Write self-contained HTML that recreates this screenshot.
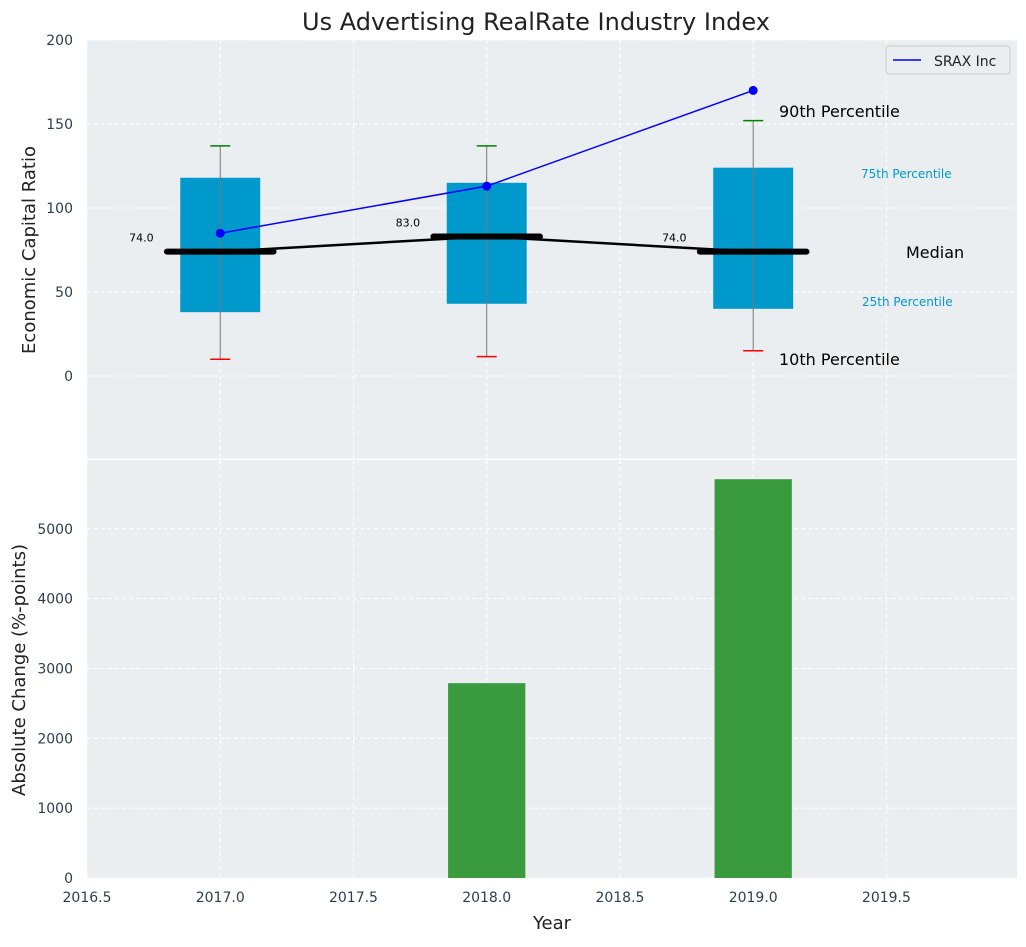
<!DOCTYPE html>
<html><head><meta charset="utf-8"><style>
body{margin:0;background:#fff;font-family:"Liberation Sans","DejaVu Sans",sans-serif;}
svg text{font-family:"DejaVu Sans","Liberation Sans",sans-serif;}
</style></head><body>
<svg id="chart" width="1026" height="942" xmlns="http://www.w3.org/2000/svg">
<rect x="0" y="0" width="1026" height="942" fill="#fff"/>
<text x="536" y="30" font-size="24" text-anchor="middle" fill="#222">Us Advertising RealRate Industry Index</text>
<g id="top"></g><g id="bottom"></g>
</svg>
<script>
const years=[2017,2018,2019];
const p10=[10,11.5,15];
const p25=[38,43,40];
const medians=[74,83,74];
const p75=[118,115,124];
const p90=[137,137,152];
const srax=[85,113,170];
const changeYears=[2018,2019];
const changes=[2790,5710];
const xTicks=[2016.5,2017,2017.5,2018,2018.5,2019,2019.5];
const yTopTicks=[0,50,100,150,200];
const yBotTicks=[0,1000,2000,3000,4000,5000];

const NS="http://www.w3.org/2000/svg";
const L=87,R=1017;
const x=v=>L+(v-2016.5)*(R-L)/3.49;
const yT=v=>40+(200-v)*420/250;
const yB=v=>878-v*418/5985;
function mk(tag,attrs,parent,text){const e=document.createElementNS(NS,tag);for(const k in attrs)e.setAttribute(k,attrs[k]);if(text!==undefined)e.textContent=text;parent.appendChild(e);return e;}
const gTop=document.getElementById('top'),gBot=document.getElementById('bottom');

let bg=mk('rect',{x:L,y:40,width:R-L,height:419,fill:'#eaeef0'},gTop);


let bg2=mk('rect',{x:L,y:460,width:R-L,height:418,fill:'#eaeef0'},gBot);



xTicks.forEach(t=>{
 mk('line',{x1:x(t),x2:x(t),y1:40,y2:459,stroke:'#fff','stroke-dasharray':'4,3','stroke-width':1},gTop);
 mk('line',{x1:x(t),x2:x(t),y1:460,y2:878,stroke:'#fff','stroke-dasharray':'4,3','stroke-width':1},gBot);
 let tl=mk('text',{x:x(t),y:902,'font-size':14,'text-anchor':'middle',fill:'#2d3e50'},gBot,t.toFixed(1));
 
 
});
yTopTicks.forEach(t=>{
 mk('line',{x1:L,x2:R,y1:yT(t),y2:yT(t),stroke:'#fff','stroke-dasharray':'4,3'},gTop);
 let tl=mk('text',{x:73,y:yT(t)+5,'font-size':14,'text-anchor':'end',fill:'#2d3e50'},gTop,t);
 
 
});
yBotTicks.forEach(t=>{
 mk('line',{x1:L,x2:R,y1:yB(t),y2:yB(t),stroke:'#fff','stroke-dasharray':'4,3'},gBot);
 let tl=mk('text',{x:73,y:yB(t)+5,'font-size':14,'text-anchor':'end',fill:'#2d3e50'},gBot,t);
 
 
});
mk('line',{x1:L,x2:R,y1:459.5,y2:459.5,stroke:'#fff','stroke-width':2},gTop);

years.forEach((yr,i)=>{
 let b=mk('rect',{x:x(yr-0.15),y:yT(p75[i]),width:x(yr+0.15)-x(yr-0.15),height:yT(p25[i])-yT(p75[i]),fill:'#0099cc'},gTop);
 
 
 mk('line',{x1:x(yr),x2:x(yr),y1:yT(p90[i]),y2:yT(p10[i]),stroke:'#777','stroke-width':1},gTop);
 mk('line',{x1:x(yr)-10,x2:x(yr)+10,y1:yT(p90[i]),y2:yT(p90[i]),stroke:'green','stroke-width':1.5},gTop);
 mk('line',{x1:x(yr)-10,x2:x(yr)+10,y1:yT(p10[i]),y2:yT(p10[i]),stroke:'red','stroke-width':1.5},gTop);
});
let mp=mk('polyline',{points:years.map((yr,i)=>x(yr)+','+yT(medians[i])).join(' '),fill:'none',stroke:'#000','stroke-width':2.5},gTop);


years.forEach((yr,i)=>{
 let m=mk('line',{x1:x(yr-0.2),x2:x(yr+0.2),y1:yT(medians[i]),y2:yT(medians[i]),stroke:'#000','stroke-width':6,'stroke-linecap':'round'},gTop);
 
 
 let t=mk('text',{x:x(yr-0.25),y:yT(medians[i])-10,'font-size':11,'text-anchor':'end',fill:'#000'},gTop,medians[i].toFixed(1));
 
 
});
let sl=mk('polyline',{points:years.map((yr,i)=>x(yr)+','+yT(srax[i])).join(' '),fill:'none',stroke:'blue','stroke-width':1.5},gTop);


years.forEach((yr,i)=>{
 let c=mk('circle',{cx:x(yr),cy:yT(srax[i]),r:4.5,fill:'blue'},gTop);
 
 
});
const ann=[["90th Percentile",779,117,16,'#000'],["75th Percentile",861,178,12,'#0099cc'],["Median",906,258,16,'#000'],["25th Percentile",862,306,12,'#0099cc'],["10th Percentile",779,365,16,'#000']];
ann.forEach(a=>{let t=mk('text',{x:a[1],y:a[2],'font-size':a[3],fill:a[4]},gTop,a[0]);
 
 });
let lg=mk('g',{},gTop);


mk('rect',{x:886,y:46,width:124,height:28,rx:3,fill:'#eaeef0',stroke:'#ccc'},lg);
mk('line',{x1:893,x2:921,y1:60,y2:60,stroke:'blue','stroke-width':1.5},lg);
mk('text',{x:934,y:66,'font-size':14,fill:'#222'},lg,'SRAX Inc');
changeYears.forEach((yr,i)=>{
 let b=mk('rect',{x:x(yr-0.145),y:yB(changes[i]),width:x(yr+0.145)-x(yr-0.145),height:878-yB(changes[i]),fill:'#3a9a3e'},gBot);
 
 
});
let t1=mk('text',{x:35,y:250,'font-size':18,'text-anchor':'middle',fill:'#222',transform:'rotate(-90 35 250)'},gTop,'Economic Capital Ratio');


let t2=mk('text',{x:25,y:670,'font-size':18,'text-anchor':'middle',fill:'#222',transform:'rotate(-90 25 670)'},gBot,'Absolute Change (%-points)');


let t3=mk('text',{x:552,y:929,'font-size':18,'text-anchor':'middle',fill:'#222'},gBot,'Year');


</script>
</body></html>
